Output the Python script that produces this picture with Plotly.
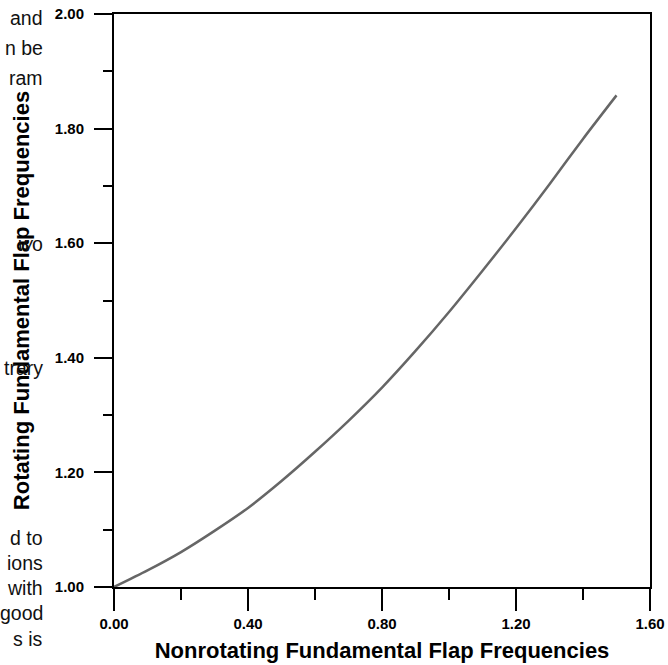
import plotly.graph_objects as go

# Data
nonrotating = [0.0, 0.1, 0.2, 0.3, 0.4, 0.5, 0.6, 0.7, 0.8, 0.9, 1.0, 1.1, 1.2, 1.3, 1.4, 1.5]
rotating = [1.000, 1.029, 1.061, 1.098, 1.138, 1.185, 1.236, 1.290, 1.348, 1.412, 1.480,
            1.552, 1.626, 1.703, 1.782, 1.858]

x_ticks = [0.0, 0.4, 0.8, 1.2, 1.6]
x_tick_labels = ["0.00", "0.40", "0.80", "1.20", "1.60"]
y_ticks = [1.0, 1.2, 1.4, 1.6, 1.8, 2.0]
y_tick_labels = ["1.00", "1.20", "1.40", "1.60", "1.80", "2.00"]

x_title = "Nonrotating Fundamental Flap Frequencies"
y_title = "Rotating Fundamental Flap Frequencies"

# Fragments of the surrounding document text visible at the left edge
side_text = ["and", "n be", "ram", "<i>w</i>o", "trary", "d to", "ions", "with", "good", "s is"]
side_text_px_y = [18, 48, 78, 244, 368, 538, 563, 588, 613, 639]

W, H = 668, 665
ML, MR, MT, MB = 114, 18, 14, 78
plot_h = H - MT - MB

font_family = "Liberation Sans, Arial, Helvetica, sans-serif"

fig = go.Figure()
fig.add_trace(go.Scatter(
    x=nonrotating, y=rotating, mode="lines",
    line=dict(color="#666666", width=2.5, shape="spline", smoothing=0.8),
    showlegend=False, hoverinfo="x+y",
))

annotations = []
for txt, py in zip(side_text, side_text_px_y):
    annotations.append(dict(
        text=txt, xref="paper", yref="paper", x=0, y=(H - MB - py) / plot_h,
        xanchor="right", yanchor="middle", xshift=-(ML - 45), showarrow=False,
        font=dict(family=font_family, size=19.5, color="#111111"),
    ))

fig.update_layout(
    width=W, height=H,
    margin=dict(l=ML, r=MR, t=MT, b=MB, pad=0),
    paper_bgcolor="white", plot_bgcolor="white",
    font=dict(family=font_family, color="black"),
    annotations=annotations,
    xaxis=dict(
        range=[0, 1.6], tickmode="array", tickvals=x_ticks, ticktext=x_tick_labels,
        ticks="outside", ticklen=22, tickwidth=2, tickcolor="black",
        minor=dict(dtick=0.2, tick0=0, ticks="outside", ticklen=11, tickwidth=2, tickcolor="black"),
        showgrid=False, zeroline=False,
        showline=True, linecolor="black", linewidth=2, mirror=True,
        tickfont=dict(size=15, weight="bold", color="black"),
        title=dict(text=x_title, font=dict(size=22, weight="bold", color="black"), standoff=12),
        automargin=False,
    ),
    yaxis=dict(
        range=[1, 2], tickmode="array", tickvals=y_ticks, ticktext=y_tick_labels,
        ticks="outside", ticklen=18, tickwidth=2, tickcolor="black",
        minor=dict(dtick=0.1, tick0=1, ticks="outside", ticklen=9, tickwidth=2, tickcolor="black"),
        showgrid=False, zeroline=False,
        showline=True, linecolor="black", linewidth=2, mirror=True,
        tickfont=dict(size=15, weight="bold", color="black"),
        ticklabelstandoff=7,
        title=dict(text=y_title, font=dict(size=22, weight="bold", color="black"), standoff=19),
        automargin=False,
    ),
)

fig.write_html("out.html")
